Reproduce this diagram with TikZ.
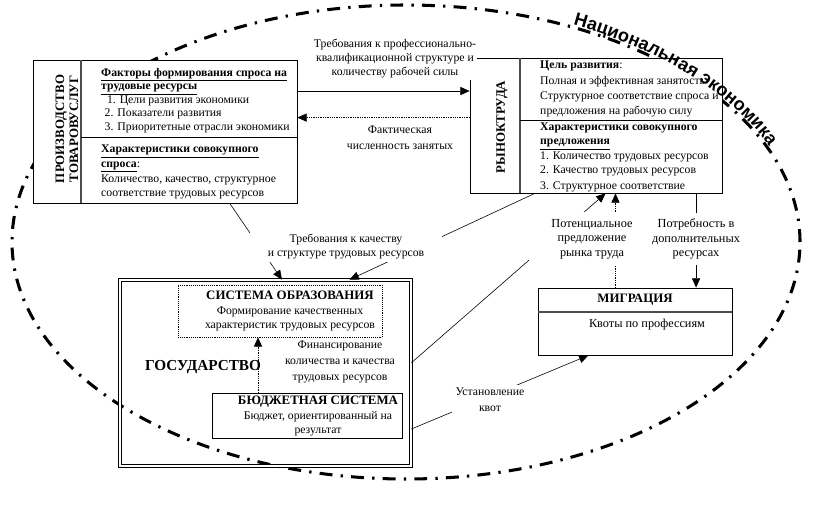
\documentclass[tikz,border=0pt]{standalone}
\usepackage{fontspec}
\setmainfont{Liberation Serif}
\newfontfamily\natfont{Liberation Sans}
\usetikzlibrary{positioning,arrows.meta,fit,decorations.text}

\begin{document}
\begin{tikzpicture}[
    x=0.03cm, y=0.03cm,
    panel/.style={draw, fill=white, inner sep=0pt, line width=0.6pt},
    frame/.style={draw, double, double distance=2.4pt, line width=0.6pt, inner sep=0pt},
    rule/.style={draw=gray!60!black, line width=0.9pt},
    vtitle/.style={rotate=90, align=center, font=\bfseries\fontsize{11}{12}\selectfont},
    body/.style={anchor=north west, align=left, inner sep=0pt, font=\fontsize{10}{11.5}\selectfont},
    caps/.style={align=center, inner sep=0pt, font=\fontsize{10}{12}\selectfont},
    lbl/.style={align=center, fill=white, inner sep=1pt, font=\fontsize{10}{12}\selectfont},
    arr/.style={-{Triangle[length=8pt,width=7pt]}, line width=0.5pt},
    darr/.style={arr, densely dotted},
    economy/.style={line width=2.6pt, dash pattern=on 11pt off 7pt on 2pt off 7pt},
]
\useasboundingbox (0,0) rectangle (837,-529);

% National economy
\draw[economy] (406,-242) ellipse [x radius=394, y radius=237];

% Production of goods and services
\node[panel, fit={(33,-60) (297,-203)}] (prod) {};
\draw[rule] (81,-60) -- (81,-203);
\draw (81,-137) -- (297,-137);
\node[vtitle] (prodtitle) at (67,-129) {ПРОИЗВОДСТВО\\ТОВАРОВУСЛУГ};
\node[body] (prodfactors) at (101,-68) {\textbf{\underline{Факторы формирования спроса на}}\\
  \textbf{\underline{трудовые ресурсы}}\\
  \hspace*{5pt}1. Цели развития экономики\\
  \hspace*{3pt}2. Показатели развития\\
  \hspace*{3pt}3. Приоритетные отрасли экономики};
\node[body, font=\fontsize{10}{12.5}\selectfont] (proddemand) at (101,-145) {\textbf{\underline{Характеристики совокупного}}\\
  \textbf{\underline{спроса}}:\\
  Количество, качество, структурное\\
  соответствие трудовых ресурсов};

% Labour market
\node[panel, fit={(470,-58) (722,-193)}] (market) {};
\draw[rule] (520,-58) -- (520,-193);
\draw (520,-120) -- (722,-120);
\node[vtitle] (markettitle) at (502,-127) {РЫНОКТРУДА};
\node[body, font=\fontsize{10}{13}\selectfont] (marketgoal) at (540,-61) {\textbf{Цель развития}:\\
  Полная и эффективная занятость\\
  Структурное соответствие спроса и\\
  предложения на рабочую силу};
\node[body, font=\fontsize{10}{12}\selectfont] (marketsupply) at (540,-123) {\textbf{Характеристики совокупного}\\
  \textbf{\underline{предложения}}\\
  1. Количество трудовых ресурсов\\
  2. Качество трудовых ресурсов\\[2pt]
  3. Структурное соответствие};

% Migration
\node[panel, fit={(538,-288) (732,-355)}] (migr) {};
\draw[rule] (538,-312) -- (732,-312);
\node[font=\bfseries\fontsize{11}{13}\selectfont] (migrtitle) at (635,-300) {МИГРАЦИЯ};
\node[caps, font=\fontsize{10.5}{12}\selectfont] (quotas) at (647,-325) {Квоты по профессиям};

% State
\node[frame, fit={(120,-280) (411,-466)}] (state) {};
\node[font=\bfseries\fontsize{13}{15}\selectfont] (statetitle) at (203,-367) {ГОСУДАРСТВО};
\node[panel, densely dotted, fit={(178,-285) (382,-337)}] (edu) {};
\node[caps] (edutext) at (290,-311) {\textbf{\fontsize{11}{13}\selectfont СИСТЕМА ОБРАЗОВАНИЯ}\\
  Формирование качественных\\
  характеристик трудовых ресурсов};
\node[panel, fit={(212,-393) (402,-438)}] (budget) {};
\node[caps] (budgettext) at (318,-416) {\textbf{\fontsize{11}{13}\selectfont БЮДЖЕТНАЯ СИСТЕМА}\\
  Бюджет, ориентированный на\\
  результат};

% Connectors
\draw[arr] (prod.17.4) -- (prod.17.4 -| market.west);
\draw[darr] (market.west |- prod.6.3) -- (prod.6.3);
\draw[arr] (prod.-48.2) -- (state.80.1);
\draw[arr] (market.-132.1) -- (state.48.3);
\draw[arr] (state.4.3) -- (market.-82.4);
\draw[darr] (migr.120.8) -- (migr.120.8 |- market.south);
\draw[arr] (migr.29.6 |- market.south) -- (migr.29.6);
\draw[arr] (state.-21.1) -- (migr.-144.5);
\draw[darr] (budget.155.3) -- (budget.155.3 |- edu.south);

% Labels
\node[lbl] (reqprof) at (395,-59) {Требования к профессионально-\\квалификационной структуре и\\количеству рабочей силы};
\node[lbl, font=\fontsize{10}{13.5}\selectfont] (actual) at (400,-138) {Фактическая\\численность занятых};
\node[lbl, inner xsep=15pt, inner ysep=2pt] (reqquality) at (346,-247) {Требования к качеству\\и структуре трудовых ресурсов};
\node[lbl, inner xsep=19pt, inner ysep=6pt, font=\fontsize{10.5}{12.5}\selectfont] (potential) at (592,-239) {Потенциальное\\предложение\\рынка труда};
\node[lbl, inner ysep=5pt, font=\fontsize{10.5}{12.5}\selectfont] (need) at (696,-239) {Потребность в\\дополнительных\\ресурсах};
\node[lbl, font=\fontsize{10}{13.5}\selectfont] (finance) at (340,-362) {Финансирование\\количества и качества\\трудовых ресурсов};
\node[lbl, inner sep=3pt, font=\fontsize{10}{13.5}\selectfont] (quota) at (490,-400) {Установление\\квот};

% Curved title
\path[decorate, decoration={text along path, raise=2pt,
    text={|\natfont\bfseries\fontsize{15.5}{15.5}\selectfont|Национальная экономика}}]
  (406,-242) ++(65:394 and 237) arc[start angle=65, end angle=0, x radius=394, y radius=237];
\end{tikzpicture}
\end{document}
